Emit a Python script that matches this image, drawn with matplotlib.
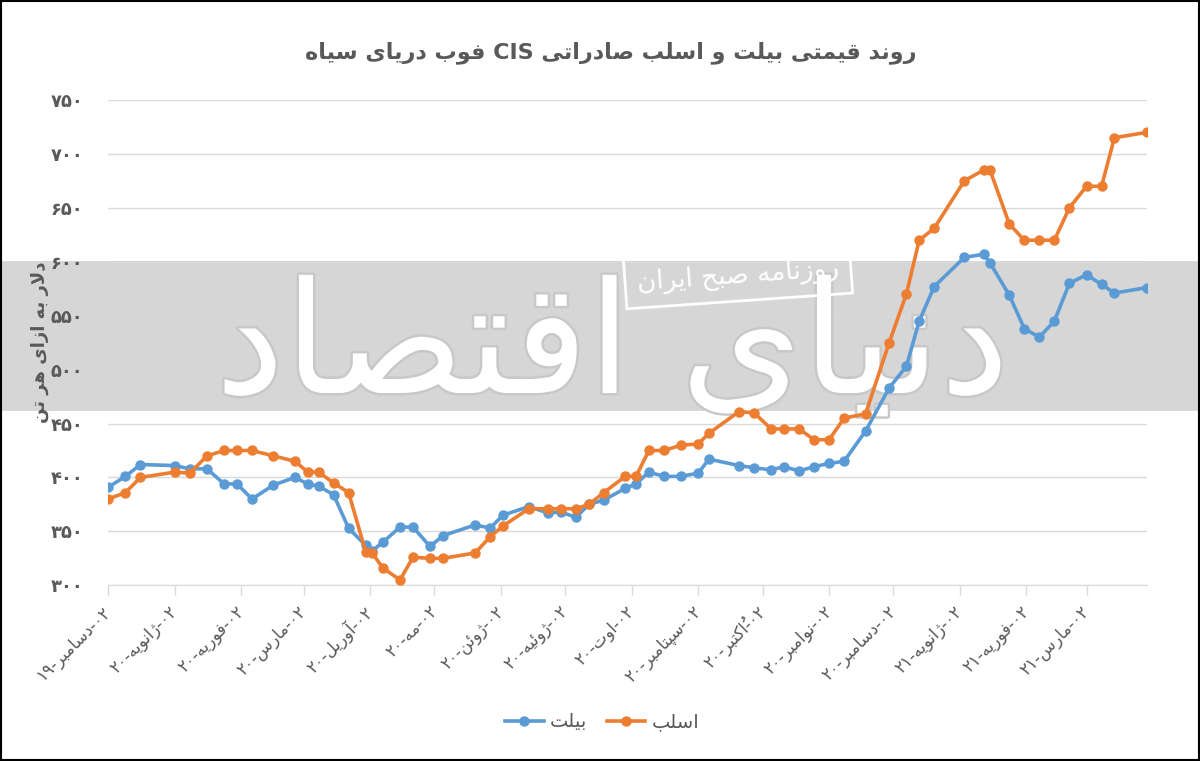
import matplotlib

matplotlib.use("Agg")
import matplotlib.dates as mdates
import matplotlib.patheffects as pe
import matplotlib.pyplot as plt
from matplotlib.patches import Rectangle

# weekly CIS export prices, FOB Black Sea ($/t)
DATES = [
    "2019-12-02", "2019-12-10", "2019-12-17", "2020-01-02", "2020-01-09", "2020-01-17",
    "2020-01-25", "2020-01-31", "2020-02-07", "2020-02-17", "2020-02-27", "2020-03-04",
    "2020-03-09", "2020-03-16", "2020-03-23", "2020-03-31", "2020-04-03", "2020-04-08",
    "2020-04-16", "2020-04-22", "2020-04-30", "2020-05-06", "2020-05-21", "2020-05-28",
    "2020-06-03", "2020-06-15", "2020-06-24", "2020-06-30", "2020-07-07", "2020-07-13",
    "2020-07-20", "2020-07-30", "2020-08-04", "2020-08-10", "2020-08-17", "2020-08-25",
    "2020-09-02", "2020-09-07", "2020-09-21", "2020-09-28", "2020-10-06", "2020-10-12",
    "2020-10-19", "2020-10-26", "2020-11-02", "2020-11-09", "2020-11-19", "2020-11-30",
    "2020-12-08", "2020-12-14", "2020-12-21", "2021-01-04", "2021-01-13", "2021-01-16",
    "2021-01-25", "2021-02-01", "2021-02-08", "2021-02-15", "2021-02-22", "2021-03-02",
    "2021-03-09", "2021-03-15", "2021-03-30",
]
BILLET = [
    391, 401, 412, 411, 408, 408, 394, 394, 380, 393, 400, 394, 392, 384, 353, 337, 332, 340,
    354, 354, 336, 346, 356, 353, 365, 373, 367, 368, 363, 375, 379, 390, 394, 405, 401, 401,
    404, 417, 411, 409, 407, 410, 406, 410, 413, 415,
    443, 483, 503, 545, 577, 604, 607, 599, 569, 538, 530, 545, 580, 588, 579, 571, 576,
]
SLAB = [
    380, 386, 400, 405, 404, 420, 425, 425, 425, 420, 415, 405, 405, 395, 386, 331, 330, 316,
    305, 326, 325, 325, 330, 345, 355, 371, 371, 371, 371, 375, 386, 401, 401, 425, 425, 430,
    431, 441, 461, 460, 445, 445, 445, 435, 435, 455,
    459, 525, 570, 620, 631, 675, 685, 685, 635, 620, 620, 620, 650, 670, 670, 715, 720,
]
TICK_DATES = [
    "2019-12-02", "2020-01-02", "2020-02-02", "2020-03-02", "2020-04-02", "2020-05-02",
    "2020-06-02", "2020-07-02", "2020-08-02", "2020-09-02", "2020-10-02", "2020-11-02",
    "2020-12-02", "2021-01-02", "2021-02-02", "2021-03-02",
]
TICK_LABELS = [
    "۰۲-دسامبر-۱۹", "۰۲-ژانویه-۲۰", "۰۲-فوریه-۲۰", "۰۲-مارس-۲۰", "۰۲-آوریل-۲۰", "۰۲-مه-۲۰",
    "۰۲-ژوئن-۲۰", "۰۲-ژوئیه-۲۰", "۰۲-اوت-۲۰", "۰۲-سپتامبر-۲۰", "۰۲-اُکتبر-۲۰", "۰۲-نوامبر-۲۰",
    "۰۲-دسامبر-۲۰", "۰۲-ژانویه-۲۱", "۰۲-فوریه-۲۱", "۰۲-مارس-۲۱",
]
Y_TICKS = [300, 350, 400, 450, 500, 550, 600, 650, 700, 750]

TITLE = "روند قیمتی بیلت و اسلب صادراتی CIS فوب دریای سیاه"
Y_LABEL = "دلار به ازای هر تن"
SERIES_NAMES = ["بیلت", "اسلب"]
WATERMARK = "دنیای اقتصاد"
STAMP = "روزنامه صبح ایران"

# matplotlib has no arabic shaping / bidi, so do a small version of it here
_DUAL = {
    "ب": 0xFE8F, "ت": 0xFE95, "ث": 0xFE99, "ج": 0xFE9D, "ح": 0xFEA1, "خ": 0xFEA5,
    "س": 0xFEB1, "ش": 0xFEB5, "ص": 0xFEB9, "ض": 0xFEBD, "ط": 0xFEC1, "ظ": 0xFEC5,
    "ع": 0xFEC9, "غ": 0xFECD, "ف": 0xFED1, "ق": 0xFED5, "ل": 0xFEDD, "م": 0xFEE1,
    "ن": 0xFEE5, "ه": 0xFEE9, "ئ": 0xFE89, "پ": 0xFB56, "چ": 0xFB7A, "ک": 0xFB8E,
    "گ": 0xFB92, "ی": 0xFBFC,
}
_RIGHT = {
    "آ": 0xFE81, "ا": 0xFE8D, "د": 0xFEA9, "ذ": 0xFEAB, "ر": 0xFEAD, "ز": 0xFEAF,
    "و": 0xFEED, "ژ": 0xFB8A,
}
_MARKS = set("\u064b\u064c\u064d\u064e\u064f\u0650\u0651\u0652")
_LAM_ALEF = {"ا": 0xFEFB, "آ": 0xFEF5}


def _is_letter(c):
    return c in _DUAL or c in _RIGHT


def _shape(text):
    chars = list(text)
    n = len(chars)
    out = []
    i = 0
    while i < n:
        c = chars[i]
        if not _is_letter(c):
            out.append(c)
            i += 1
            continue
        j = i - 1
        while j >= 0 and chars[j] in _MARKS:
            j -= 1
        joins_prev = j >= 0 and chars[j] in _DUAL
        k = i + 1
        while k < n and chars[k] in _MARKS:
            k += 1
        if c == "ل" and k < n and chars[k] in _LAM_ALEF:
            out.append(chr(_LAM_ALEF[chars[k]] + (1 if joins_prev else 0)))
            i = k + 1
            continue
        joins_next = c in _DUAL and k < n and _is_letter(chars[k])
        base = _DUAL.get(c, _RIGHT.get(c))
        if joins_prev and joins_next:
            out.append(chr(base + 3))
        elif joins_prev:
            out.append(chr(base + 1))
        elif joins_next:
            out.append(chr(base + 2))
        else:
            out.append(chr(base))
        i += 1
    return "".join(out)


def _is_ltr(c):
    return c.isascii() and c.isalnum() or "\u06f0" <= c <= "\u06f9"


def fa(text):
    shaped = _shape(text)
    clusters = []
    for c in shaped:
        if c in _MARKS and clusters:
            clusters[-1] += c
        else:
            clusters.append(c)
    runs = []
    for cl in clusters:
        ltr = _is_ltr(cl[0])
        if runs and runs[-1][0] == ltr:
            runs[-1][1].append(cl)
        else:
            runs.append((ltr, [cl]))
    visual = []
    for ltr, cls in reversed(runs):
        visual.append("".join(cls if ltr else reversed(cls)))
    return "".join(visual)


_FA_DIGITS = str.maketrans("0123456789", "۰۱۲۳۴۵۶۷۸۹")

TEXT_GRAY = "#595959"
GRID_GRAY = "#d9d9d9"
BLUE = "#5b9bd5"
ORANGE = "#ed7d31"

plt.rcParams["font.family"] = ["DejaVu Sans"]

W, H = 1200, 761
fig = plt.figure(figsize=(W / 100, H / 100), dpi=100)
fig.patch.set_facecolor("white")

# gray watermark band behind the plot, and the thin black frame
fig.patches.append(Rectangle((0, 1 - 411 / H), 1, 150 / H, transform=fig.transFigure,
                             facecolor="#d6d6d6", edgecolor="none", zorder=-2))
fig.patches.append(Rectangle((0.001, 0.001), 0.998, 0.998, transform=fig.transFigure,
                             facecolor="none", edgecolor="black", linewidth=1.5, zorder=10))

left, right, top, bottom = 108.3, 1146.6, 100.0, 585.3
ax = fig.add_axes([left / W, 1 - bottom / H, (right - left) / W, (bottom - top) / H])
ax.set_facecolor("none")

dates = mdates.datestr2num(DATES)
ax.plot(dates, BILLET, color=BLUE, lw=2.6, marker="o", ms=6.5, label=fa(SERIES_NAMES[0]), zorder=3)
ax.plot(dates, SLAB, color=ORANGE, lw=2.6, marker="o", ms=6.5, label=fa(SERIES_NAMES[1]), zorder=4)

ax.set_xlim(dates[0], dates[-1])
ax.set_ylim(300, 750)
ax.set_yticks(Y_TICKS)
ax.set_yticklabels([str(v).translate(_FA_DIGITS) for v in Y_TICKS], fontsize=13,
                   fontweight="bold", color=TEXT_GRAY)
ax.set_xticks(mdates.datestr2num(TICK_DATES))
ax.set_xticklabels([fa(t) for t in TICK_LABELS], rotation=45, ha="right", va="center",
                   rotation_mode="anchor", fontsize=12, color=TEXT_GRAY)
ax.tick_params(axis="y", length=0, pad=18)
ax.tick_params(axis="x", length=7, color=GRID_GRAY, width=1, pad=10)
ax.grid(axis="y", color=GRID_GRAY, lw=1)
ax.set_axisbelow(True)
for side in ["top", "right", "left"]:
    ax.spines[side].set_visible(False)
ax.spines["bottom"].set_color(GRID_GRAY)

ax.text(40 / W, 1 - 342 / H, fa(Y_LABEL), transform=fig.transFigure, rotation=90,
        ha="center", va="center", fontsize=13, fontweight="bold", color=TEXT_GRAY)

# watermark logo + stamp
ax.text(612 / W, 1 - 350 / H, fa(WATERMARK), transform=fig.transFigure, ha="center",
        va="center", fontsize=112, color="white", clip_on=False, zorder=1,
        path_effects=[pe.withStroke(linewidth=3.5, foreground="#c8c8c8")])
ax.text(738 / W, 1 - 276 / H, fa(STAMP), transform=fig.transFigure, ha="center", va="center",
        fontsize=19, color="white", rotation=4, zorder=1,
        bbox=dict(boxstyle="square,pad=0.45", facecolor="none", edgecolor="white", lw=2))

fig.text(611 / W, 1 - 53 / H, fa(TITLE), ha="center", va="center", fontsize=16,
         fontweight="bold", color=TEXT_GRAY)

ax.legend(loc="center", bbox_to_anchor=(602 / W, 1 - 722 / H), bbox_transform=fig.transFigure,
          ncol=2, frameon=False, fontsize=14, handlelength=2.0, handletextpad=0.3,
          columnspacing=1.0, labelcolor=TEXT_GRAY)

fig.savefig("out.png", dpi=100)
